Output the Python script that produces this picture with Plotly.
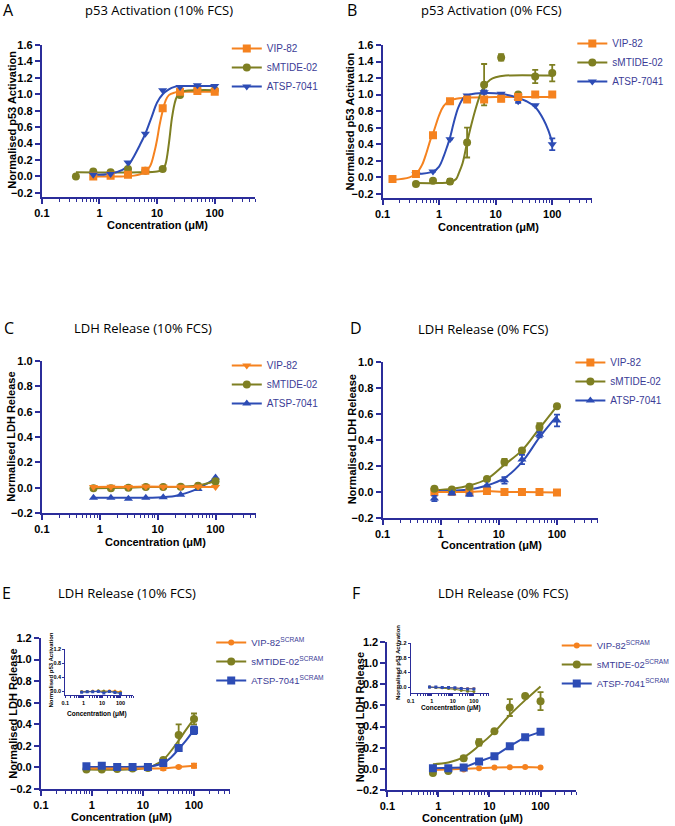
import math
import plotly.graph_objects as go

W, H = 675, 826
ORANGE = "#F5821F"
OLIVE = "#7E7F22"
BLUE = "#2D4CB5"
AXIS = "#2B2D9A"
LEG = "#3B3C96"

# concentrations (uM)
conc = [0.78, 1.56, 3.125, 6.25, 12.5, 25, 50, 100]
conc_039 = [0.39] + conc
conc_b_vip = [0.15, 0.39] + conc

# ---- A: p53 activation, 10% FCS
a_vip = [0.0, 0.01, 0.02, 0.07, 0.83, 1.03, 1.04, 1.03]
a_smt = [0.0, 0.06, 0.05, 0.09, 0.07, 0.09, 0.99, 1.05, 1.05]
a_atsp = [0.02, 0.03, 0.17, 0.52, 1.05, 1.09, 1.11, 1.10]
a_vip_fit_x = [0.78, 2, 4, 6, 7.5, 9, 10, 11, 12.5, 14, 16, 20, 25, 50, 100]
a_vip_fit_y = [0.0, 0.0, 0.01, 0.05, 0.12, 0.3, 0.45, 0.62, 0.8, 0.92, 0.99, 1.02, 1.03, 1.03, 1.03]
a_smt_fit_x = [0.39, 5, 10, 12.5, 14, 16, 18, 20, 22, 25, 30, 50, 100]
a_smt_fit_y = [0.05, 0.05, 0.06, 0.08, 0.15, 0.4, 0.7, 0.88, 0.97, 1.01, 1.04, 1.05, 1.05]
a_atsp_fit_x = [0.78, 1.5, 2.5, 3.125, 4, 5, 6.25, 8, 10, 12.5, 16, 20, 25, 50, 100]
a_atsp_fit_y = [0.02, 0.03, 0.08, 0.13, 0.25, 0.38, 0.52, 0.72, 0.9, 1.0, 1.06, 1.09, 1.10, 1.10, 1.10]

# ---- B: p53 activation, 0% FCS
b_vip = [-0.02, 0.04, 0.51, 0.92, 0.94, 0.94, 0.95, 0.97, 1.0, 1.0]
b_vip_err = [0, 0, 0, 0, 0, 0.03, 0.03, 0, 0, 0]
b_smt = [-0.08, -0.04, -0.05, 0.42, 1.12, 1.45, 1.0, 1.22, 1.26]
b_smt_err = [0, 0, 0.03, 0.18, 0.25, 0.04, 0.02, 0.08, 0.1]
b_atsp = [0.04, 0.07, 0.46, 0.99, 1.03, 1.01, 0.92, 0.87, 0.40]
b_atsp_err = [0, 0, 0, 0, 0.02, 0, 0.02, 0, 0.07]
b_vip_fit_x = [0.15, 0.3, 0.4, 0.5, 0.6, 0.7, 0.8, 1.0, 1.2, 1.56, 2, 3, 10, 100]
b_vip_fit_y = [-0.03, 0.0, 0.05, 0.15, 0.3, 0.45, 0.55, 0.75, 0.86, 0.93, 0.95, 0.96, 0.97, 0.97]
b_smt_fit_x = [0.39, 1.0, 1.56, 2.0, 2.2, 2.6, 3.125, 3.6, 4.3, 5.2, 6.25, 8, 10, 15, 100]
b_smt_fit_y = [-0.07, -0.07, -0.06, -0.02, 0.04, 0.17, 0.42, 0.6, 0.8, 0.98, 1.1, 1.18, 1.21, 1.23, 1.23]
b_atsp_fit_x = [0.39, 0.78, 1.0, 1.2, 1.4, 1.56, 1.8, 2.2, 2.8, 3.5, 6, 12.5, 25, 35, 50, 70, 85, 100]
b_atsp_fit_y = [0.04, 0.07, 0.13, 0.25, 0.38, 0.48, 0.65, 0.85, 0.97, 1.0, 1.02, 1.01, 0.96, 0.92, 0.85, 0.70, 0.57, 0.42]

# ---- C: LDH release, 10% FCS
c_vip = [0.005, 0.008, 0.005, 0.01, 0.008, 0.008, 0.01, 0.005]
c_smt = [-0.005, -0.005, 0.0, 0.005, 0.005, 0.008, 0.015, 0.05]
c_smt_err = [0, 0, 0, 0, 0, 0, 0, 0.02]
c_atsp = [-0.08, -0.08, -0.088, -0.08, -0.075, -0.055, -0.01, 0.08]
c_atsp_fit_x = [0.78, 5, 10, 15, 20, 25, 30, 40, 50, 70, 100]
c_atsp_fit_y = [-0.08, -0.08, -0.078, -0.072, -0.065, -0.055, -0.045, -0.025, -0.005, 0.03, 0.075]

# ---- D: LDH release, 0% FCS
d_vip = [0.0, 0.002, 0.0, 0.008, 0.0, 0.0, 0.0, -0.003]
d_smt = [0.025, 0.02, 0.04, 0.10, 0.23, 0.32, 0.50, 0.66]
d_smt_err = [0, 0, 0, 0.015, 0.025, 0.01, 0.03, 0]
d_atsp = [-0.05, -0.01, -0.02, 0.05, 0.09, 0.25, 0.44, 0.55]
d_atsp_err = [0.02, 0.01, 0.01, 0, 0.025, 0.035, 0.02, 0.045]
d_smt_fit_y = [0.013, 0.025, 0.05, 0.10, 0.21, 0.32, 0.49, 0.66]
d_atsp_fit_y = [0.005, 0.01, 0.02, 0.05, 0.107, 0.23, 0.42, 0.585]

# ---- E: LDH release, 10% FCS (scrambled)
e_vip = [-0.01, -0.01, -0.005, -0.01, -0.005, -0.01, 0.005, 0.015]
e_vip_err = [0, 0, 0, 0, 0, 0.015, 0.01, 0.02]
e_smt = [-0.02, -0.02, -0.015, -0.01, -0.005, 0.07, 0.30, 0.45]
e_smt_err = [0, 0, 0, 0, 0, 0, 0.1, 0.05]
e_atsp = [0.01, 0.015, 0.005, 0.005, 0.005, 0.04, 0.18, 0.345]
e_atsp_err = [0.01, 0.01, 0, 0, 0, 0.02, 0.02, 0.035]
e_smt_fit_x = [0.78, 5, 10, 15, 20, 25, 35, 50, 70, 100]
e_smt_fit_y = [-0.02, -0.02, -0.01, 0.01, 0.04, 0.07, 0.15, 0.25, 0.35, 0.45]
e_atsp_fit_x = [0.78, 10, 15, 20, 25, 35, 50, 70, 100]
e_atsp_fit_y = [0.005, 0.007, 0.012, 0.025, 0.04, 0.09, 0.17, 0.25, 0.35]

# ---- F: LDH release, 0% FCS (scrambled)
f_vip = [-0.01, -0.005, -0.005, 0.005, 0.012, 0.015, 0.017, 0.013]
f_smt = [-0.04, -0.02, 0.10, 0.25, 0.355, 0.58, 0.69, 0.64]
f_smt_err = [0.01, 0.01, 0.02, 0.03, 0, 0.08, 0, 0.085]
f_atsp = [0.005, 0.005, 0.012, 0.07, 0.12, 0.215, 0.30, 0.35]
f_smt_fit_y = [0.044, 0.06, 0.11, 0.22, 0.35, 0.51, 0.65, 0.78]

# ---- insets: p53 activation of scrambled peptides
ie_vip = [0.0, 0.0, 0.01, 0.01, 0.0, 0.02, 0.01, -0.01]
ie_smt = [-0.01, 0.0, 0.0, 0.02, 0.01, 0.0, -0.01, -0.03]
ie_atsp = [-0.02, -0.01, -0.01, 0.0, -0.04, 0.0, -0.03, -0.06]
if_vip = [0.0, -0.01, -0.01, -0.02, -0.03, -0.03, -0.04, -0.04]
if_smt = [0.0, -0.01, -0.02, -0.04, -0.06, -0.09, -0.11, -0.12]
if_atsp = [0.0, 0.0, -0.01, -0.01, -0.02, -0.04, -0.05, -0.05]

fig = go.Figure()


def pts(ax, x, y, color, symbol, size=8, err=None, line=False, lw=2):
    fig.add_trace(go.Scatter(
        x=x, y=y, xaxis="x" + ax, yaxis="y" + ax, showlegend=False,
        mode="lines+markers" if line else "markers",
        line=dict(color=color, width=lw),
        marker=dict(color=color, symbol=symbol, size=size),
        error_y=dict(type="data", array=err, color=color, thickness=1.8, width=3,
                     visible=err is not None)))


def fit(ax, x, y, color, lw=2):
    fig.add_trace(go.Scatter(
        x=x, y=y, xaxis="x" + ax, yaxis="y" + ax, showlegend=False, mode="lines",
        line=dict(color=color, width=lw, shape="spline", smoothing=1.0)))


def leg(name, color, symbol, legend, size=8):
    fig.add_trace(go.Scatter(
        x=[None], y=[None], name=name, mode="lines+markers", legend=legend,
        line=dict(color=color, width=2), marker=dict(color=color, symbol=symbol, size=size)))


# A
fit("", a_vip_fit_x, a_vip_fit_y, ORANGE)
fit("", a_smt_fit_x, a_smt_fit_y, OLIVE)
fit("", a_atsp_fit_x, a_atsp_fit_y, BLUE)
pts("", conc_039, a_smt, OLIVE, "circle")
pts("", conc, a_vip, ORANGE, "square")
pts("", conc, a_atsp, BLUE, "triangle-down")
leg("VIP-82", ORANGE, "square", "legend")
leg("sMTIDE-02", OLIVE, "circle", "legend")
leg("ATSP-7041", BLUE, "triangle-down", "legend")

# B
fit("2", b_vip_fit_x, b_vip_fit_y, ORANGE)
fit("2", b_smt_fit_x, b_smt_fit_y, OLIVE)
fit("2", b_atsp_fit_x, b_atsp_fit_y, BLUE)
pts("2", conc_039, b_smt, OLIVE, "circle", err=b_smt_err)
pts("2", conc_039, b_atsp, BLUE, "triangle-down", err=b_atsp_err)
pts("2", conc_b_vip, b_vip, ORANGE, "square", err=b_vip_err)
leg("VIP-82", ORANGE, "square", "legend2")
leg("sMTIDE-02", OLIVE, "circle", "legend2")
leg("ATSP-7041", BLUE, "triangle-down", "legend2")

# C
fit("3", c_atsp_fit_x, c_atsp_fit_y, BLUE)
pts("3", conc, c_atsp, BLUE, "triangle-up")
pts("3", conc, c_smt, OLIVE, "circle", err=c_smt_err, line=True)
pts("3", conc, c_vip, ORANGE, "triangle-down", line=True)
leg("VIP-82", ORANGE, "triangle-down", "legend3")
leg("sMTIDE-02", OLIVE, "circle", "legend3")
leg("ATSP-7041", BLUE, "triangle-up", "legend3")

# D
fit("4", conc, d_smt_fit_y, OLIVE)
fit("4", conc, d_atsp_fit_y, BLUE)
pts("4", conc, d_vip, ORANGE, "square", line=True)
pts("4", conc, d_smt, OLIVE, "circle", err=d_smt_err)
pts("4", conc, d_atsp, BLUE, "triangle-up", err=d_atsp_err)
leg("VIP-82", ORANGE, "square", "legend4")
leg("sMTIDE-02", OLIVE, "circle", "legend4")
leg("ATSP-7041", BLUE, "triangle-up", "legend4")

# E
fit("5", e_smt_fit_x, e_smt_fit_y, OLIVE)
fit("5", e_atsp_fit_x, e_atsp_fit_y, BLUE)
pts("5", conc, e_vip, ORANGE, "circle", size=6, err=e_vip_err, line=True)
pts("5", conc, e_smt, OLIVE, "circle", err=e_smt_err)
pts("5", conc, e_atsp, BLUE, "square", err=e_atsp_err)
leg("VIP-82<sup>SCRAM</sup>", ORANGE, "circle", "legend5", size=6)
leg("sMTIDE-02<sup>SCRAM</sup>", OLIVE, "circle", "legend5")
leg("ATSP-7041<sup>SCRAM</sup>", BLUE, "square", "legend5")

# F
fit("6", conc, f_smt_fit_y, OLIVE)
pts("6", conc, f_vip, ORANGE, "circle", size=6, line=True)
pts("6", conc, f_smt, OLIVE, "circle", err=f_smt_err)
pts("6", conc, f_atsp, BLUE, "square", line=True)
leg("VIP-82<sup>SCRAM</sup>", ORANGE, "circle", "legend6", size=6)
leg("sMTIDE-02<sup>SCRAM</sup>", OLIVE, "circle", "legend6")
leg("ATSP-7041<sup>SCRAM</sup>", BLUE, "square", "legend6")

# insets
for ax, series in (("7", (ie_vip, ie_smt, ie_atsp)), ("8", (if_vip, if_smt, if_atsp))):
    for y, c, s in zip(series, (ORANGE, OLIVE, BLUE), ("circle", "circle", "square")):
        pts(ax, conc, y, c, s, size=3, line=True, lw=1)

# ---- layout
def xd(a, b):
    return [a / W, b / W]


def yd(top, bottom):
    return [1 - bottom / H, 1 - top / H]


panels = {
    "": dict(x=xd(43, 262), y=yd(45, 197), r=[-0.25, 1.6], dt=0.2),
    "2": dict(x=xd(393, 608), y=yd(45, 198), r=[-0.25, 1.6], dt=0.2),
    "3": dict(x=xd(43, 263), y=yd(361, 513), r=[-0.2, 1.0], dt=0.2),
    "4": dict(x=xd(393, 614), y=yd(362, 518), r=[-0.2, 1.0], dt=0.2),
    "5": dict(x=xd(42, 236), y=yd(638, 789), r=[-0.2, 1.2], dt=0.2),
    "6": dict(x=xd(398, 592), y=yd(642, 790), r=[-0.2, 1.2], dt=0.2),
    "7": dict(x=xd(67, 137), y=yd(649, 695), r=[-0.1, 1.2], dt=0.4),
    "8": dict(x=xd(422, 502), y=yd(643, 693), r=[-0.16, 1.2], dt=0.4),
}

FONT = "Liberation Sans"
layout = dict(template="none", width=W, height=H, margin=dict(l=0, r=0, t=0, b=0),
              paper_bgcolor="white", plot_bgcolor="rgba(0,0,0,0)",
              font=dict(family=FONT, color="black"))
for k, p in panels.items():
    small = k in ("7", "8")
    fs = 5.5 if small else 11
    common = dict(showline=True, linecolor=AXIS, linewidth=1 if small else 2,
                  ticks="outside", tickcolor=AXIS, tickwidth=1 if small else 1.5,
                  ticklen=2 if small else 5, showgrid=False, zeroline=False,
                  automargin=False,
                  tickfont=dict(family=FONT, size=fs, weight="bold", color="black"))
    layout["xaxis" + k] = dict(common, type="log", domain=p["x"], anchor="y" + k,
                               range=[-1, math.log10(500)], tickvals=[0.1, 1, 10, 100],
                               ticktext=["0.1", "1", "10", "100"],
                               minor=dict(ticks="outside", ticklen=1.5 if small else 3,
                                          tickwidth=1, tickcolor=AXIS, dtick="D1"))
    layout["yaxis" + k] = dict(common, domain=p["y"], anchor="x" + k, range=p["r"],
                               tick0=0, dtick=p["dt"], tickformat=".1f")

leg_pos = {"legend": (233, 34), "legend2": (588, 29), "legend3": (233, 351),
           "legend4": (586, 348), "legend5": (217, 628), "legend6": (572, 631)}
for name, (lx, ly) in leg_pos.items():
    fs = 9.5 if name in ("legend5", "legend6") else 10
    layout[name] = dict(x=lx / W, y=1 - ly / H, xanchor="left", yanchor="top",
                        bgcolor="rgba(0,0,0,0)", font=dict(family=FONT, size=fs, color=LEG))

fig.update_layout(**layout)

ann = []
# panel titles and letters
for txt, x, y in (("p53 Activation (10% FCS)", 163, 10), ("p53 Activation (0% FCS)", 505, 10),
                  ("LDH Release (10% FCS)", 147, 328), ("LDH Release (0% FCS)", 497, 329),
                  ("LDH Release (10% FCS)", 130, 593), ("LDH Release (0% FCS)", 517, 593)):
    ann.append(dict(text=txt, x=x / W, y=1 - y / H, font=dict(family="Open Sans", size=13)))
for txt, x, y in (("A", 9, 10), ("B", 362, 10), ("C", 9, 328), ("D", 366, 328),
                  ("E", 7, 593), ("F", 366, 593)):
    ann.append(dict(text=txt, x=x / W, y=1 - y / H, font=dict(family="Open Sans", size=16)))
# axis titles
ytitles = (("Normalised p53 Activation", 12, 120), ("Normalised p53 Activation", 360, 121),
           ("Normalised LDH Release", 11, 437), ("Normalised LDH Release", 362, 439),
           ("Normalised LDH Release", 13, 714), ("Normalised LDH Release", 370, 717))
for txt, x, y in ytitles:
    ann.append(dict(text=txt, x=x / W, y=1 - y / H, textangle=-90,
                    font=dict(family=FONT, size=11, weight="bold")))
for x, y in ((162, 225), (502, 227), (160, 542), (505, 545), (125, 817), (485, 818)):
    ann.append(dict(text="Concentration (μM)", x=x / W, y=1 - y / H,
                    font=dict(family=FONT, size=11, weight="bold")))
# inset titles
for x, y in ((100, 714), (463, 708)):
    ann.append(dict(text="Concentration (μM)", x=x / W, y=1 - y / H,
                    font=dict(family=FONT, size=6.5, weight="bold")))
for x, y in ((52, 670), (409, 663)):
    ann.append(dict(text="Normalised p53 Activation", x=x / W, y=1 - y / H, textangle=-90,
                    font=dict(family=FONT, size=6, weight="bold")))
for a in ann:
    a.update(xref="paper", yref="paper", showarrow=False, xanchor="center", yanchor="middle")
fig.update_layout(annotations=ann)

# drop the default page margin so the figure fills the window
fig.write_html("out.html", config={"displayModeBar": False},
               post_script="document.body.style.margin='0';")
